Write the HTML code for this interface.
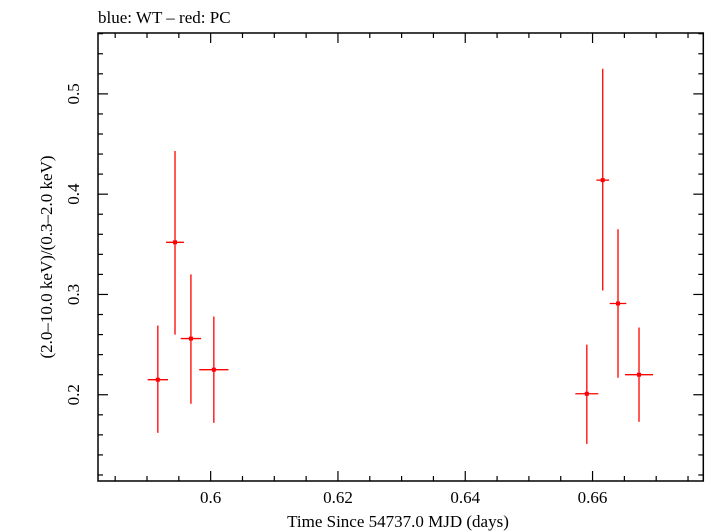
<!DOCTYPE html>
<html><head><meta charset="utf-8"><style>
html,body{margin:0;padding:0;background:#fff}
svg{display:block;font-family:"Liberation Serif",serif}
</style></head><body>
<svg id="chart" width="705" height="532" viewBox="0 0 705 532" xmlns="http://www.w3.org/2000/svg">
<text x="98" y="23" font-size="17">blue: WT – red: PC</text>
<rect x="98" y="33" width="605.3" height="448" fill="none" stroke="#000" stroke-width="1.5"/>
<g id="ticks"></g>
<g id="marks"></g>
<text x="398" y="527" font-size="17" text-anchor="middle">Time Since 54737.0 MJD (days)</text>
<text transform="translate(52,257) rotate(-90)" font-size="17" text-anchor="middle">(2.0–10.0 keV)/(0.3–2.0 keV)</text>
</svg>
<script>
const times = [0.5917, 0.5944, 0.5969, 0.6005, 0.6591, 0.6616, 0.6640, 0.6673];
const timeErr = [0.0016, 0.0014, 0.0016, 0.0023, 0.0018, 0.0010, 0.0013, 0.0022];
const ratios = [0.215, 0.352, 0.256, 0.225, 0.201, 0.414, 0.291, 0.220];
const ratioHi = [0.269, 0.443, 0.320, 0.278, 0.250, 0.525, 0.365, 0.267];
const ratioLo = [0.162, 0.260, 0.191, 0.172, 0.151, 0.304, 0.217, 0.173];
const xTickLabels = ["0.6", "0.62", "0.64", "0.66"];
const yTickLabels = ["0.2", "0.3", "0.4", "0.5"];

const NS = "http://www.w3.org/2000/svg";
const L = 98, R = 703.3, T = 33, B = 481;
const xMin = 0.5823, xMax = 0.6774, yMin = 0.114, yMax = 0.5607;
function X(v){ return L + (v - xMin) / (xMax - xMin) * (R - L); }
function Y(v){ return B - (v - yMin) / (yMax - yMin) * (B - T); }
function mk(tag, attrs, parent){ const e = document.createElementNS(NS, tag); for (const k in attrs) e.setAttribute(k, attrs[k]); parent.appendChild(e); return e; }

const tg = document.getElementById('ticks');
// x ticks (minor every 0.005, major every 0.02)
for (let i = Math.ceil(xMin / 0.005); i * 0.005 <= xMax; i++) {
  const v = i * 0.005, x = X(v);
  const major = i % 4 === 0;
  const len = major ? 10 : 5;
  const t1 = mk('line', {x1:x, x2:x, y1:B, y2:B-len, stroke:'#000', 'stroke-width':1.2}, tg);
  
  
  const t2 = mk('line', {x1:x, x2:x, y1:T, y2:T+len, stroke:'#000', 'stroke-width':1.2}, tg);
  
  
}
xTickLabels.forEach(s => {
  const t = mk('text', {x:X(parseFloat(s)), y:503, 'font-size':17, 'text-anchor':'middle'}, tg);
  t.textContent = s;
  
  
});
// y ticks (minor every 0.02, major every 0.1)
for (let i = Math.ceil(yMin / 0.02 - 1e-9); i * 0.02 <= yMax; i++) {
  const v = i * 0.02, y = Y(v);
  const major = i % 5 === 0;
  const len = major ? 10 : 5;
  const t1 = mk('line', {x1:L, x2:L+len, y1:y, y2:y, stroke:'#000', 'stroke-width':1.2}, tg);
  
  
  const t2 = mk('line', {x1:R, x2:R-len, y1:y, y2:y, stroke:'#000', 'stroke-width':1.2}, tg);
  
  
}
yTickLabels.forEach(s => {
  const y = Y(parseFloat(s));
  const t = mk('text', {transform:'translate(79,' + y + ') rotate(-90)', 'font-size':17, 'text-anchor':'middle'}, tg);
  t.textContent = s;
  
  
});

const mg = document.getElementById('marks');
times.forEach((t, i) => {
  const g = mk('g', {}, mg);
  
  
  const x = X(t), y = Y(ratios[i]);
  const eh = mk('line', {x1:X(t - timeErr[i]), x2:X(t + timeErr[i]), y1:y, y2:y, stroke:'#f00', 'stroke-width':1.3}, g);
  
  
  const ev = mk('line', {x1:x, x2:x, y1:Y(ratioHi[i]), y2:Y(ratioLo[i]), stroke:'#f00', 'stroke-width':1.3}, g);
  
  
  const p = mk('rect', {x:x-2, y:y-2, width:4, height:4, fill:'#f00'}, g);
  
  
});
</script>
</body></html>
